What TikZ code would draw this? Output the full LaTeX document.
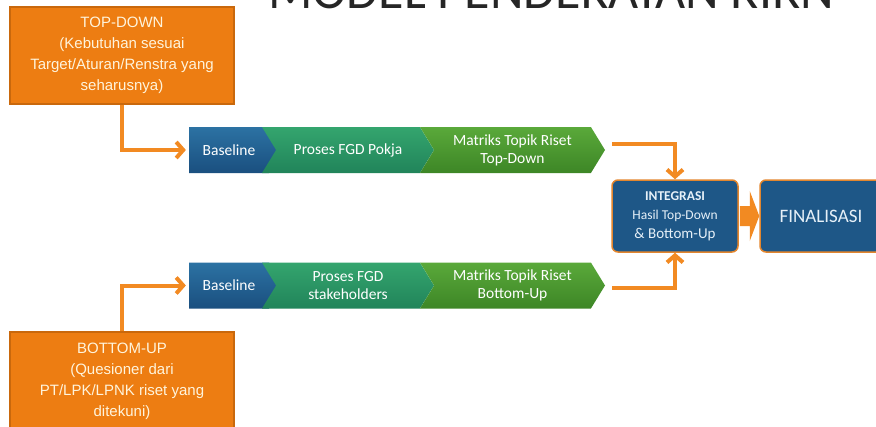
\documentclass[tikz,border=0pt]{standalone}
\usepackage{fontspec}
\setmainfont{Carlito}
\newfontfamily\arialf{Liberation Sans}
\usetikzlibrary{shapes.symbols,arrows.meta,calc}
\definecolor{orfill}{HTML}{ED7D12}
\definecolor{orborder}{HTML}{C9680C}
\definecolor{cream}{HTML}{FFF4DC}
\definecolor{arrorange}{HTML}{F28A22}
\definecolor{blueA}{HTML}{2C72A3}
\definecolor{blueB}{HTML}{1A4F7F}
\definecolor{tealA}{HTML}{34A56E}
\definecolor{tealB}{HTML}{21845A}
\definecolor{grnA}{HTML}{5AA93A}
\definecolor{grnB}{HTML}{3D8626}
\definecolor{boxblue}{HTML}{1E5787}
\definecolor{boxedge}{HTML}{E3862E}
\definecolor{boxtext}{HTML}{E6F0F8}
\begin{document}
\begin{tikzpicture}[x=1pt,y=-1pt,
  obox/.style={draw=orborder, line width=1.2pt, fill=orfill, text=cream,
    font=\arialf\fontsize{15}{21}\selectfont, align=center,
    minimum width=224pt, inner sep=0pt},
  chev/.style={signal, signal to=east, signal pointer angle=117,
    minimum height=46pt, inner sep=0pt, text=white,
    font=\fontsize{15.5}{18}\selectfont, align=center},
  notch/.style={signal from=west},
  bluefill/.style={top color=blueA, bottom color=blueB},
  tealfill/.style={top color=tealA, bottom color=tealB},
  grnfill/.style={top color=grnA, bottom color=grnB},
  bbox/.style={draw=boxedge, line width=1.5pt, fill=boxblue, rounded corners=6pt,
    text=boxtext, align=center, inner sep=0pt},
  conn/.style={draw=arrorange, line width=4pt,
    -{Straight Barb[length=7pt,width=16pt]}},
  title/.style={font=\fontsize{52}{52}\selectfont, text=black!85}
]
\useasboundingbox (0,0) rectangle (876,426);
\clip (0,0) rectangle (876,426);

% title (cut off at top)
\node[title, anchor=base] (title) at (551,8) {MODEL PENDEKATAN RIRN};

% orange source boxes
\node[obox, minimum height=97pt] (td) at (122,55.5)
  {TOP-DOWN\\(Kebutuhan sesuai\\Target/Aturan/Renstra yang\\seharusnya)};
\node[obox, minimum height=98pt] (bu) at (122,381)
  {BOTTOM-UP\\(Quesioner dari\\PT/LPK/LPNK riset yang\\ditekuni)};

% top chevron row
\node[chev, bluefill, minimum width=94pt] (b1) at (229,150) {Baseline};
\node[chev, notch, tealfill, minimum width=172pt] (p1) at (348,150) {Proses FGD Pokja};
\node[chev, notch, grnfill, minimum width=185pt] (m1) at (512.5,150) {Matriks Topik Riset\\Top-Down};

% bottom chevron row
\node[chev, bluefill, minimum width=94pt] (b2) at (229,285.5) {Baseline};
\node[chev, notch, tealfill, minimum width=172pt] (p2) at (348,285.5) {Proses FGD\\stakeholders};
\node[chev, notch, grnfill, minimum width=185pt] (m2) at (512.5,285.5) {Matriks Topik Riset\\Bottom-Up};

% integration and final boxes
\node[bbox, minimum width=126pt, minimum height=72pt,
      font=\fontsize{13.5}{19}\selectfont] (int) at (675,216)
  {\textbf{INTEGRASI}\\Hasil Top-Down\\{\fontsize{15}{19}\selectfont \& Bottom-Up}};
\node[bbox, minimum width=122pt, minimum height=72pt,
      font=\fontsize{19}{22}\selectfont] (fin) at (821,216) {FINALISASI};

% connectors
\draw[conn, shorten >=3pt] (td.south) |- (b1.west);
\draw[conn, shorten >=3pt] (bu.north) |- (b2.west);
\draw[conn] ([shift={(7pt,6pt)}]m1.east) -| (int.north);
\draw[conn] ([shift={(7pt,-2.5pt)}]m2.east) -| (int.south);

% block arrow between integration and final
\fill[arrorange] ($(int.east)+(1,-10)$) -- ($(int.east)+(11,-10)$)
  -- ($(int.east)+(11,-25)$) -- (fin.west) -- ($(int.east)+(11,25)$)
  -- ($(int.east)+(11,10)$) -- ($(int.east)+(1,10)$) -- cycle;
\end{tikzpicture}
\end{document}
